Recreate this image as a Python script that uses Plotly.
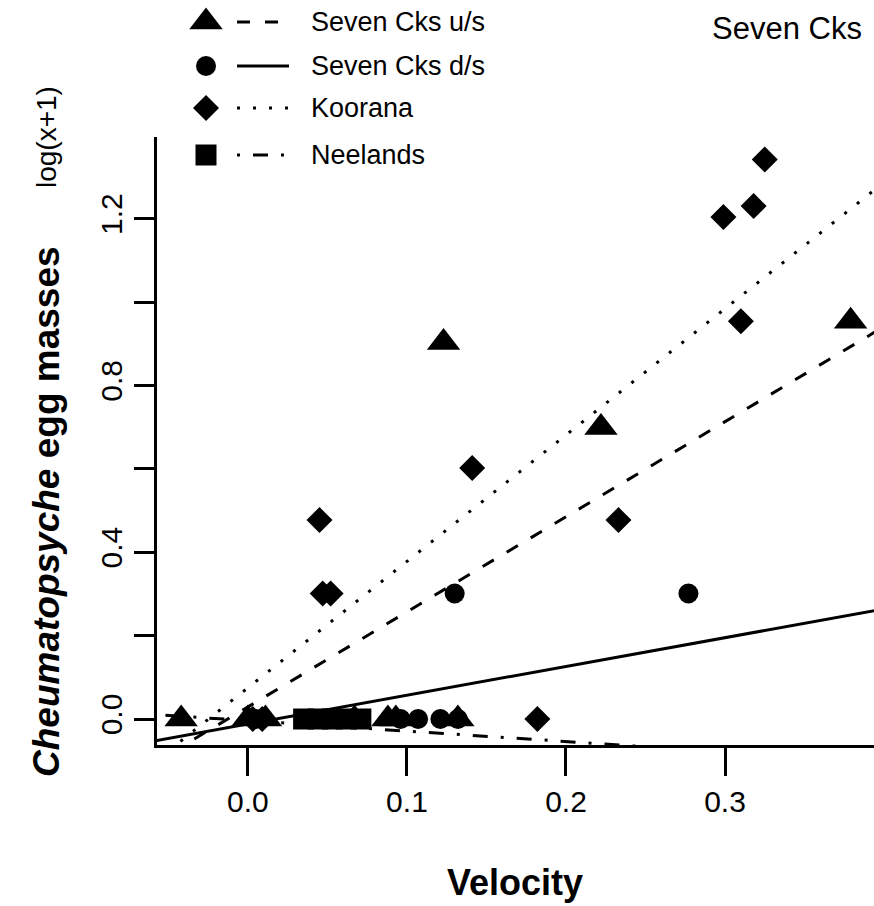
import plotly.graph_objects as go

W, H = 874, 906
FONT = "Liberation Sans, Arial, Helvetica, sans-serif"

# Current velocity (m/s) and log10(x+1) egg-mass counts per site
us_velocity = [-0.042, 0.000, 0.011, 0.067, 0.088, 0.093, 0.132, 0.123, 0.222, 0.379]
us_eggs = [0, 0, 0, 0, 0, 0, 0, 0.903, 0.699, 0.954]

ds_velocity = [0.005, 0.096, 0.107, 0.121, 0.132, 0.130, 0.277]
ds_eggs = [0, 0, 0, 0, 0, 0.301, 0.301]

koo_velocity = [0.003, 0.009, 0.045, 0.047, 0.052, 0.141, 0.182, 0.233,
                0.299, 0.310, 0.318, 0.325]
koo_eggs = [0, 0, 0.477, 0.301, 0.301, 0.602, 0, 0.477,
            1.204, 0.954, 1.230, 1.342]

nee_velocity = [0.035, 0.044, 0.053, 0.062, 0.071]
nee_eggs = [0, 0, 0, 0, 0]

# Least-squares fits (intercept, slope) for each site
site_names = ["Seven Cks u/s", "Seven Cks d/s", "Koorana", "Neelands"]
fit_intercepts = [0.029, -0.012, 0.075, -0.004]
fit_slopes = [2.28, 0.69, 3.03, -0.25]

x_ticks = [0.0, 0.1, 0.2, 0.3]
y_ticks = [0.0, 0.2, 0.4, 0.6, 0.8, 1.0, 1.2]
y_tick_text = ["0.0", "", "0.4", "", "0.8", "", "1.2"]

symbols = ["triangle-up", "circle", "diamond", "square"]
symbol_sizes = [29, 20, 20, 21]
dashes = ["13px,15px", "solid", "3px,13px", "3px,13px,15px,13px"]
site_x = [us_velocity, ds_velocity, koo_velocity, nee_velocity]
site_y = [us_eggs, ds_eggs, koo_eggs, nee_eggs]

fig = go.Figure()

# points
for name, xs, ys, sym, sz in zip(site_names, site_x, site_y, symbols, symbol_sizes):
    fig.add_trace(go.Scatter(
        x=xs, y=ys, mode="markers", name=name,
        marker=dict(symbol=sym, size=sz, color="black", line=dict(width=0)),
        cliponaxis=False,
    ))

# fitted lines, drawn across the whole panel and clipped to it
line_x = [-0.2, 0.6]
for name, a, b, d in zip(site_names, fit_intercepts, fit_slopes, dashes):
    fig.add_trace(go.Scatter(
        x=line_x, y=[a + b * v for v in line_x], mode="lines", name=name,
        line=dict(color="black", width=3, dash=d),
    ))

# key in the top-left corner (pixel-based overlay axes)
key_rows = [22, 66, 108, 155]
for name, sym, sz, d, ry in zip(site_names, symbols, symbol_sizes, dashes, key_rows):
    fig.add_trace(go.Scatter(
        x=[206], y=[ry], mode="markers", xaxis="x2", yaxis="y2",
        marker=dict(symbol=sym, size=sz, color="black", line=dict(width=0)),
        cliponaxis=False,
    ))
    fig.add_trace(go.Scatter(
        x=[237, 289], y=[ry, ry], mode="lines", xaxis="x2", yaxis="y2",
        line=dict(color="black", width=3, dash=d),
    ))
    fig.add_annotation(
        x=309, y=ry, xref="x2", yref="y2", text=name, showarrow=False,
        xanchor="left", yanchor="middle",
        font=dict(family=FONT, size=27, color="black"),
    )

fig.add_annotation(
    x=787, y=28, xref="x2", yref="y2", text="Seven Cks", showarrow=False,
    xanchor="center", yanchor="middle",
    font=dict(family=FONT, size=31, color="black"),
)
fig.add_annotation(
    x=515, y=882, xref="x2", yref="y2", text="<b>Velocity</b>", showarrow=False,
    xanchor="center", yanchor="middle",
    font=dict(family=FONT, size=36, color="black"),
)
fig.add_annotation(
    x=46, y=512, xref="x2", yref="y2",
    text="<b><i>Cheumatopsyche</i> egg masses</b>", showarrow=False,
    textangle=-90, xanchor="center", yanchor="middle",
    font=dict(family=FONT, size=37, color="black"),
)
fig.add_annotation(
    x=46, y=137, xref="x2", yref="y2", text="log(x+1)", showarrow=False,
    textangle=-90, xanchor="center", yanchor="middle",
    font=dict(family=FONT, size=28, color="black"),
)

x_left_px, x_right_px = 157, 874
y_top_px, y_bot_px = 137, 745

fig.update_layout(
    width=W, height=H,
    margin=dict(l=0, r=0, t=0, b=0),
    paper_bgcolor="white", plot_bgcolor="rgba(0,0,0,0)",
    showlegend=False,
    font=dict(family=FONT, color="black"),
    xaxis=dict(
        domain=[x_left_px / W, x_right_px / W],
        range=[-0.0572, 0.3937],
        showgrid=False, zeroline=False,
        showline=True, linecolor="black", linewidth=3,
        ticks="outside", ticklen=28, tickwidth=2.5, tickcolor="black",
        tickvals=x_ticks, ticktext=[f"{v:.1f}" for v in x_ticks],
        tickfont=dict(family=FONT, size=30, color="black"),
        anchor="y",
    ),
    yaxis=dict(
        domain=[1 - y_bot_px / H, 1 - y_top_px / H],
        range=[(719 - y_bot_px) / 417, (719 - y_top_px) / 417],
        showgrid=False, zeroline=False,
        showline=True, linecolor="black", linewidth=3,
        ticks="outside", ticklen=20, tickwidth=2.5, tickcolor="black",
        tickvals=y_ticks, ticktext=y_tick_text, tickangle=-90,
        tickfont=dict(family=FONT, size=30, color="black"),
        anchor="x",
    ),
    xaxis2=dict(domain=[0, 1], range=[0, W], visible=False, anchor="y2"),
    yaxis2=dict(domain=[0, 1], range=[H, 0], visible=False, anchor="x2"),
)

fig.write_html("out.html")
